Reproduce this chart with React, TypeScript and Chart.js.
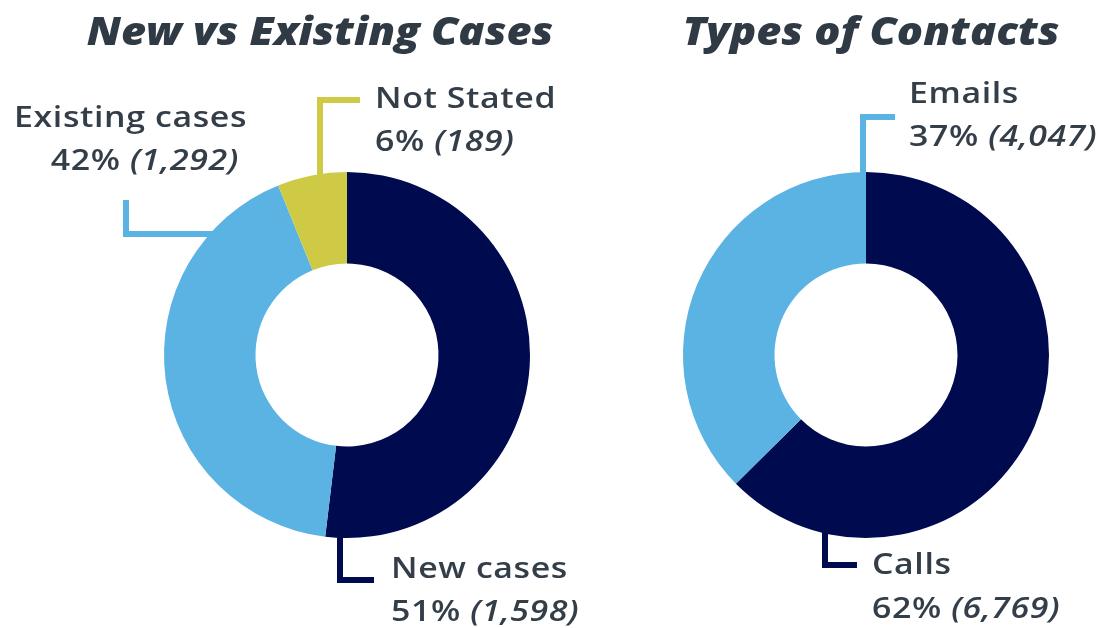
import React, { useEffect, useRef } from 'react';
import { Chart, registerables } from 'chart.js';

Chart.register(...registerables);

// ---- data ----
const caseLabels = ['New cases', 'Existing cases', 'Not Stated'];
const caseValues = [1598, 1292, 189];
const casePercents = ['51%', '42%', '6%'];
const caseTitle = 'New vs Existing Cases';

const contactLabels = ['Calls', 'Emails'];
const contactValues = [6769, 4047];
const contactPercents = ['62%', '37%'];
const contactTitle = 'Types of Contacts';

// ---- style ----
const NAVY = '#000b4f';
const SKY = '#5ab3e3';
const OLIVE = '#cfca46';
const TEXT = '#333e49';
const TITLE = '#2f3a45';
const FONT = '"Open Sans", "DejaVu Sans", sans-serif';
const LABEL_SX = 1.21;
const TITLE_SX = 1.14;

type Line = { dx: number; dy: number; align: 'left' | 'right' };
type Callout = { path: number[][]; l1: Line; l2: Line };

// positions relative to each donut centre (baselines)
const caseCallouts: Callout[] = [
  { path: [[-7, 170], [-7, 225], [27, 225]], l1: { dx: 44, dy: 223, align: 'left' }, l2: { dx: 44, dy: 266, align: 'left' } },
  { path: [[-130, -121], [-221, -121], [-221, -155]], l1: { dx: -100, dy: -228, align: 'right' }, l2: { dx: -108, dy: -185, align: 'right' } },
  { path: [[-27, -170], [-27, -255], [13, -255]], l1: { dx: 28, dy: -247, align: 'left' }, l2: { dx: 28, dy: -204, align: 'left' } },
];
const contactCallouts: Callout[] = [
  { path: [[-41, 170], [-41, 210], [-9, 210]], l1: { dx: 6, dy: 219, align: 'left' }, l2: { dx: 6, dy: 263, align: 'left' } },
  { path: [[-3, -170], [-3, -238], [29, -238]], l1: { dx: 43, dy: -252, align: 'left' }, l2: { dx: 43, dy: -209, align: 'left' } },
];

function drawScaled(ctx: CanvasRenderingContext2D, text: string, x: number, y: number, sx: number) {
  ctx.save();
  ctx.translate(x, y);
  ctx.scale(sx, 1);
  ctx.textAlign = 'left';
  ctx.fillText(text, 0, 0);
  ctx.restore();
  return ctx.measureText(text).width * sx;
}

function makePlugin(title: string, titleX: number, labels: string[], values: number[], percents: string[], callouts: Callout[], colors: string[]) {
  const center = (chart: any) => {
    const a = chart.chartArea;
    return { cx: (a.left + a.right) / 2, cy: (a.top + a.bottom) / 2 };
  };
  return {
    id: 'callouts',
    beforeDatasetsDraw(chart: any) {
      const ctx = chart.ctx as CanvasRenderingContext2D;
      const { cx, cy } = center(chart);
      ctx.save();
      ctx.lineWidth = 6;
      ctx.lineJoin = 'miter';
      ctx.lineCap = 'butt';
      callouts.forEach((c, i) => {
        ctx.strokeStyle = colors[i];
        ctx.beginPath();
        c.path.forEach((p, j) => {
          if (j === 0) ctx.moveTo(cx + p[0], cy + p[1]);
          else ctx.lineTo(cx + p[0], cy + p[1]);
        });
        ctx.stroke();
      });
      ctx.restore();
    },
    afterDraw(chart: any) {
      const ctx = chart.ctx as CanvasRenderingContext2D;
      const { cx, cy } = center(chart);
      ctx.save();
      ctx.textBaseline = 'alphabetic';
      ctx.fillStyle = TITLE;
      ctx.font = `italic 800 38px ${FONT}`;
      const tw = ctx.measureText(title).width * TITLE_SX;
      drawScaled(ctx, title, titleX - tw / 2, 45, TITLE_SX);

      ctx.fillStyle = TEXT;
      (ctx as any).letterSpacing = '0.5px';
      const f1 = `600 28px ${FONT}`;
      const f2i = `italic 600 28px ${FONT}`;
      callouts.forEach((c, i) => {
        ctx.font = f1;
        const w1 = ctx.measureText(labels[i]).width * LABEL_SX;
        const x1 = cx + c.l1.dx - (c.l1.align === 'right' ? w1 : 0);
        drawScaled(ctx, labels[i], x1, cy + c.l1.dy, LABEL_SX);

        const a = percents[i] + ' ';
        const b = '(' + values[i].toLocaleString('en-US') + ')';
        ctx.font = f1;
        const wa = ctx.measureText(a).width * LABEL_SX;
        ctx.font = f2i;
        const wb = ctx.measureText(b).width * LABEL_SX;
        let x0 = cx + c.l2.dx;
        if (c.l2.align === 'right') x0 -= wa + wb;
        ctx.font = f1;
        drawScaled(ctx, a, x0, cy + c.l2.dy, LABEL_SX);
        ctx.font = f2i;
        drawScaled(ctx, b, x0 + wa, cy + c.l2.dy, LABEL_SX);
      });
      ctx.restore();
    },
  };
}

function Donut(props: { labels: string[]; values: number[]; percents: string[]; colors: string[]; padLeft: number; padRight: number; title: string; titleX: number; callouts: Callout[] }) {
  const ref = useRef<HTMLCanvasElement>(null);
  useEffect(() => {
    if (!ref.current) return;
    const chart = new Chart(ref.current, {
      type: 'doughnut',
      data: {
        labels: props.labels,
        datasets: [{ data: props.values, backgroundColor: props.colors, borderWidth: 0, radius: 183 } as any],
      },
      options: {
        responsive: false,
        animation: false,
        cutout: '50%',
        layout: { padding: { left: props.padLeft, right: props.padRight, top: 82, bottom: 0 } },
        plugins: { legend: { display: false }, tooltip: { enabled: true } },
      },
      plugins: [makePlugin(props.title, props.titleX, props.labels, props.values, props.percents, props.callouts, props.colors)],
    });
    return () => chart.destroy();
  }, []);
  return <canvas ref={ref} width={1104} height={628} style={{ position: 'absolute', left: 0, top: 0, width: 1104, height: 628 }} />;
}

export default function App() {
  useEffect(() => {
    document.body.style.margin = '0';
  }, []);
  return (
    <div style={{ position: 'fixed', left: 0, top: 0, width: 1104, height: 628, background: '#ffffff' }}>
      <Donut labels={caseLabels} values={caseValues} percents={casePercents} colors={[NAVY, SKY, OLIVE]} padLeft={0} padRight={410} title={caseTitle} titleX={320} callouts={caseCallouts} />
      <Donut labels={contactLabels} values={contactValues} percents={contactPercents} colors={[NAVY, SKY]} padLeft={628} padRight={0} title={contactTitle} titleX={871} callouts={contactCallouts} />
    </div>
  );
}
